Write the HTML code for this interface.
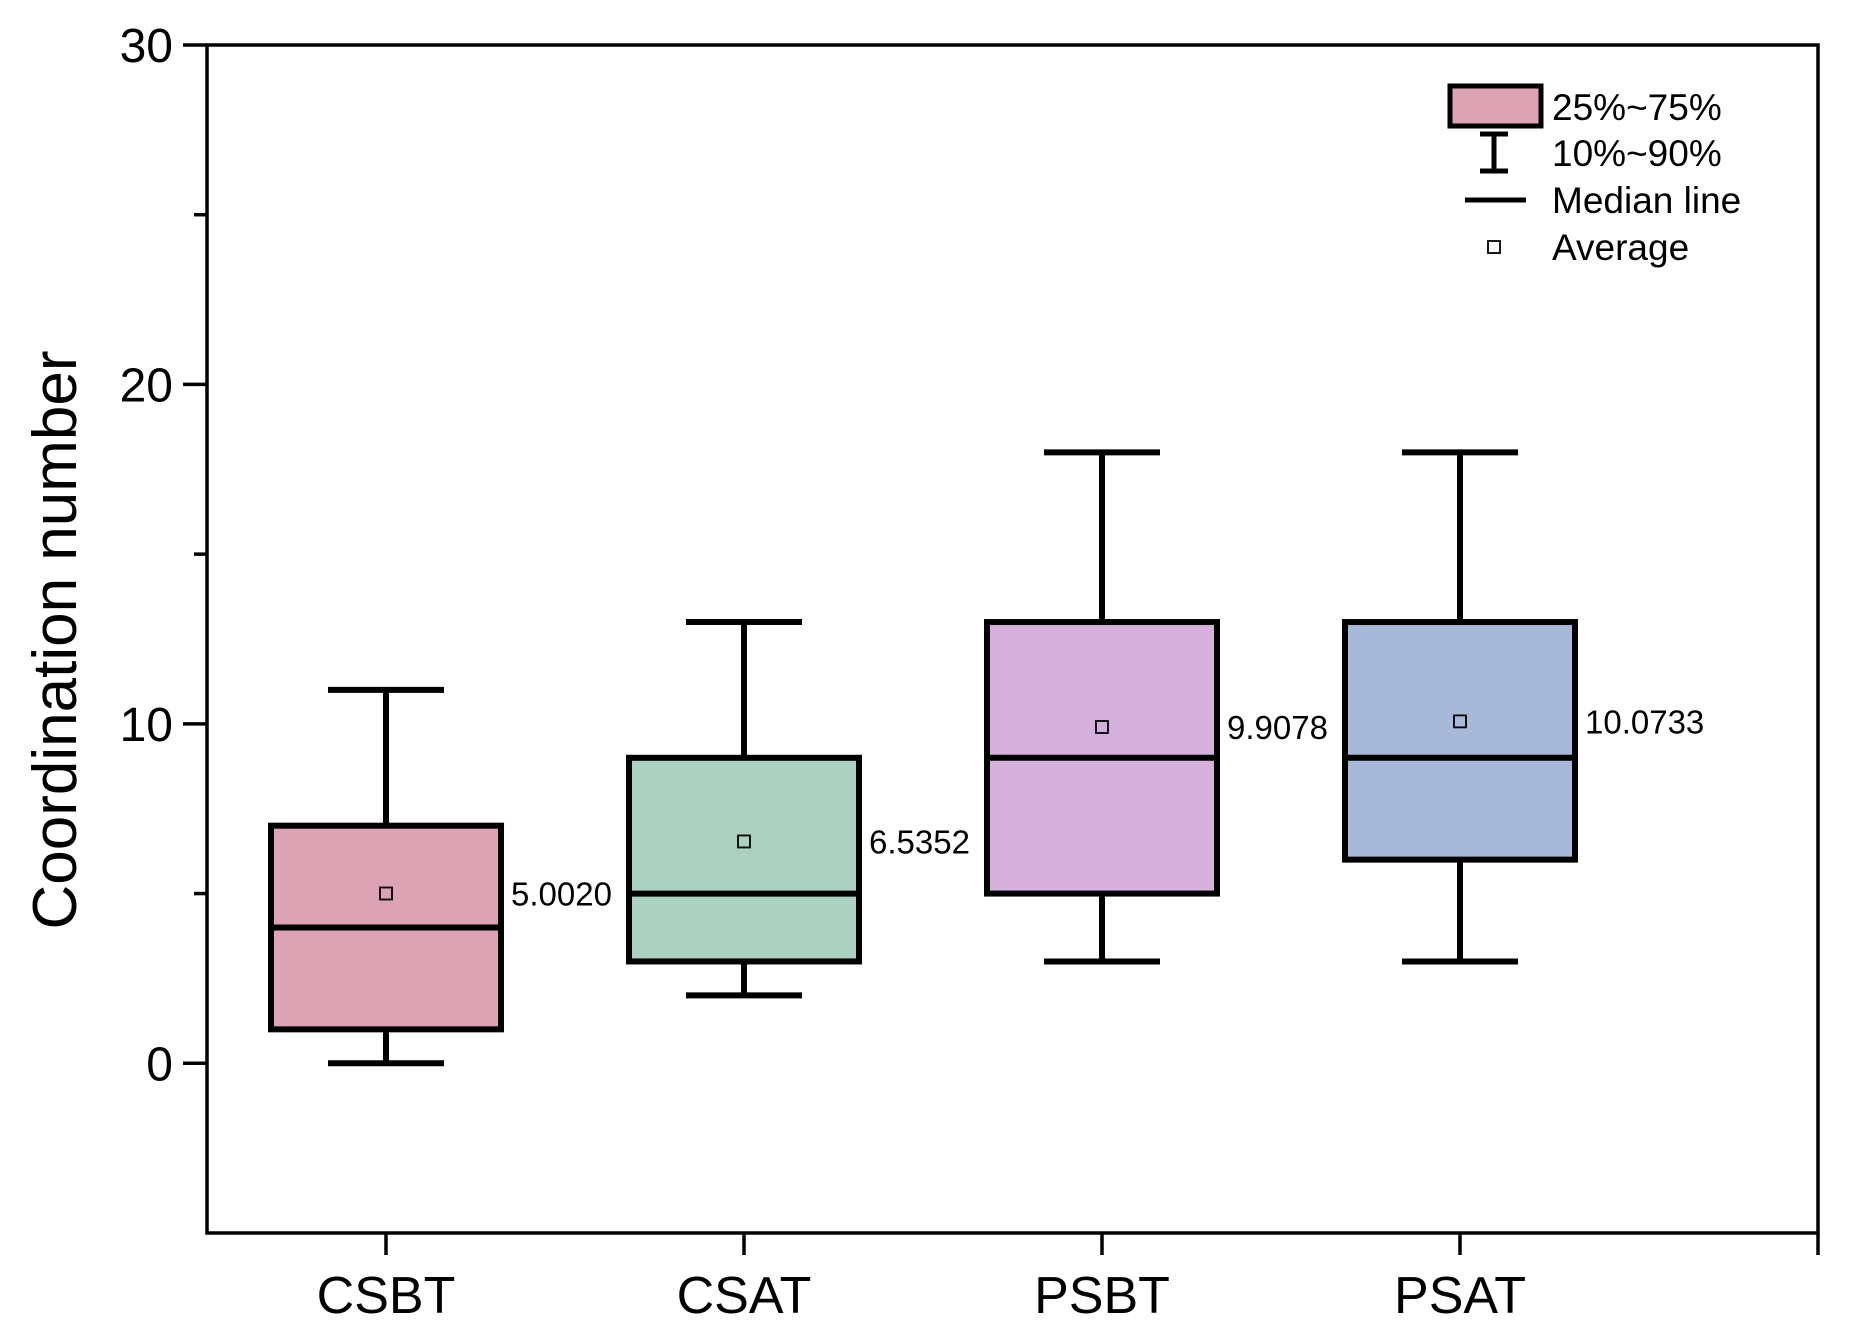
<!DOCTYPE html>
<html><head><meta charset="utf-8"><style>body{margin:0;background:#fff}svg{display:block}text{font-family:"Liberation Sans",Arial,sans-serif;fill:#000}</style></head>
<body>
<svg id="chart" width="1855" height="1344" viewBox="0 0 1855 1344" xmlns="http://www.w3.org/2000/svg"></svg>
<script>
const categories=["CSBT","CSAT","PSBT","PSAT"];
const whiskerLow=[0,2,3,3];
const whiskerHigh=[11,13,18,18];
const q1=[1,3,5,6];
const q3=[7,9,13,13];
const medians=[4,5,9,9];
const means=[5.0020,6.5352,9.9078,10.0733];
const meanLabels=["5.0020","6.5352","9.9078","10.0733"];
const colors=["#dba3b3","#acd1c0","#d5b0dd","#a8b8d9"];
const yTicks=[0,10,20,30];
const yMinor=[5,15,25];
const L=207,R=1818,T=45,B=1233,yMin=-5,yMax=30;
const y=v=>B-(v-yMin)/(yMax-yMin)*(B-T);
const x=i=>L+(i+1-0.5)/4.5*(R-L);
const svg=document.getElementById('chart');
const NS='http://www.w3.org/2000/svg';
function el(tag,a,txt){const e=document.createElementNS(NS,tag);for(const k in a)e.setAttribute(k,a[k]);if(txt!==undefined)e.textContent=txt;svg.appendChild(e);return e;}
const BW=230,CW=116,SW=6;
categories.forEach((c,i)=>{
  const cx=x(i);
  let e=el('line',{x1:cx,x2:cx,y1:y(whiskerHigh[i]),y2:y(q3[i]),stroke:'#000','stroke-width':SW});
  
  
  e=el('line',{x1:cx,x2:cx,y1:y(whiskerLow[i]),y2:y(q1[i]),stroke:'#000','stroke-width':SW});
  
  
  e=el('line',{x1:cx-CW/2,x2:cx+CW/2,y1:y(whiskerHigh[i]),y2:y(whiskerHigh[i]),stroke:'#000','stroke-width':SW});
  
  
  e=el('line',{x1:cx-CW/2,x2:cx+CW/2,y1:y(whiskerLow[i]),y2:y(whiskerLow[i]),stroke:'#000','stroke-width':SW});
  
  
  e=el('rect',{x:cx-BW/2,y:y(q3[i]),width:BW,height:y(q1[i])-y(q3[i]),fill:colors[i],stroke:'#000','stroke-width':SW});
  
  
  e=el('line',{x1:cx-BW/2,x2:cx+BW/2,y1:y(medians[i]),y2:y(medians[i]),stroke:'#000','stroke-width':SW});
  
  
  e=el('rect',{x:cx-6,y:y(means[i])-6,width:12,height:12,fill:'none',stroke:'#000','stroke-width':1.8});
  
  
  e=el('text',{x:cx+BW/2+10,y:y(means[i])+12,'font-size':33},meanLabels[i]);
  
  
  e=el('line',{x1:cx,x2:cx,y1:B,y2:B+22,stroke:'#000','stroke-width':3.5});
  
  
  e=el('text',{x:cx,y:B+80,'font-size':52,'text-anchor':'middle'},c);
  
  
});
let a=el('line',{x1:R,x2:R,y1:B,y2:B+22,stroke:'#000','stroke-width':3.5});


yTicks.forEach(v=>{
  let e=el('line',{x1:L-24,x2:L,y1:y(v),y2:y(v),stroke:'#000','stroke-width':3.5});
  
  
  e=el('text',{x:L-34,y:y(v)+17,'font-size':48,'text-anchor':'end'},String(v));
  
  
});
yMinor.forEach(v=>{
  let e=el('line',{x1:L-13,x2:L,y1:y(v),y2:y(v),stroke:'#000','stroke-width':3.5});
  
  
});
a=el('rect',{x:L,y:T,width:R-L,height:B-T,fill:'none',stroke:'#000','stroke-width':3.5});


a=el('text',{x:0,y:0,'font-size':62,'text-anchor':'middle',transform:'translate(76,640) rotate(-90)'},'Coordination number');


// legend
a=el('rect',{x:1450,y:86,width:91,height:40,fill:colors[0],stroke:'#000','stroke-width':5});


a=el('path',{d:'M1494 134V171M1480 134H1508M1480 171H1508',stroke:'#000','stroke-width':5,fill:'none'});


a=el('line',{x1:1465,x2:1526,y1:200,y2:200,stroke:'#000','stroke-width':5});


a=el('rect',{x:1488,y:241,width:12,height:12,fill:'none',stroke:'#000','stroke-width':1.8});


[["25%~75%",120],["10%~90%",166],["Median line",213],["Average",260]].forEach(([t,yy])=>{
  const e=el('text',{x:1552,y:yy,'font-size':37},t);
  
  
});
</script>
</body></html>
